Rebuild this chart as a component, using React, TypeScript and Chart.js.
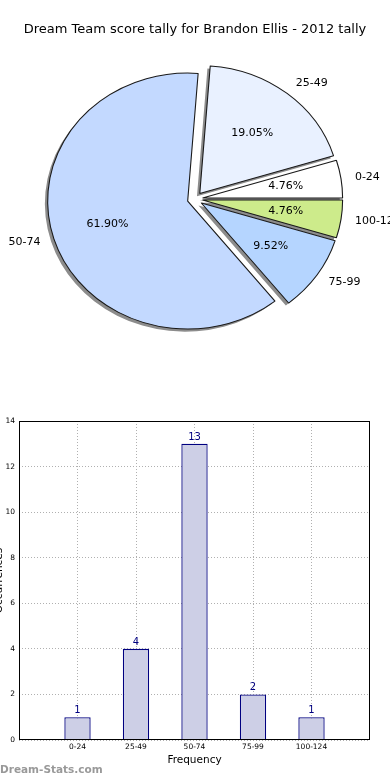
import React, { useEffect, useRef } from 'react';
import { Chart, registerables } from 'chart.js';

Chart.register(...registerables);

const TITLE = 'Dream Team score tally for Brandon Ellis - 2012 tally';
const categories = ['0-24', '25-49', '50-74', '75-99', '100-124'];
const counts = [1, 4, 13, 2, 1];
const pieColors = ['#ffffff', '#e9f1ff', '#c3d9ff', '#b5d5ff', '#cdeb8b'];
const yTickValues = [0, 2, 4, 6, 8, 10, 12, 14];
const X_TITLE = 'Frequency';
const Y_TITLE = 'Occurrences';
const WATERMARK = 'Dream-Stats.com';

const FONT = '"DejaVu Sans", sans-serif';
const EXPLODE = 7;
const SX = 1.094;

function PieChart() {
  const ref = useRef<HTMLCanvasElement>(null);
  useEffect(() => {
    if (!ref.current) return;
    const total = counts.reduce((a, b) => a + b, 0);
    const order = categories.map((_, i) => i).reverse();

    const ellipse = {
      id: 'ellipse',
      beforeDatasetsDraw(chart: any) {
        const els = chart.getDatasetMeta(0).data;
        els.forEach((el: any) => {
          if (!el._wrapped) {
            const orig = el.draw.bind(el);
            el.draw = (ctx: CanvasRenderingContext2D, area: any) => {
              const h = (el.startAngle + el.endAngle) / 2;
              ctx.save();
              ctx.translate(Math.cos(h) * EXPLODE, Math.sin(h) * EXPLODE);
              orig(ctx, area);
              ctx.restore();
            };
            el._wrapped = true;
          }
        });
        const arc = els[0];
        const ctx = chart.ctx;
        // shadow pass (under all wedges)
        ctx.save();
        ctx.translate(-2.8, 2.6);
        ctx.translate(arc.x, arc.y);
        ctx.scale(SX, 1);
        ctx.translate(-arc.x, -arc.y);
        els.forEach((el: any) => {
          const o = el.options;
          el.options = { ...o, backgroundColor: '#8c8c8c', borderColor: '#8c8c8c', borderWidth: 0 };
          el.draw(ctx, chart.chartArea);
          el.options = o;
        });
        ctx.restore();
        // main pass transform
        ctx.save();
        ctx.translate(arc.x, arc.y);
        ctx.scale(SX, 1);
        ctx.translate(-arc.x, -arc.y);
      },
      afterDatasetsDraw(chart: any) {
        chart.ctx.restore();
      },
    };

    const labels = {
      id: 'pieLabels',
      afterDraw(chart: any) {
        const ctx = chart.ctx;
        ctx.save();
        ctx.fillStyle = '#000';
        ctx.textBaseline = 'middle';
        ctx.font = `11px ${FONT}`;
        chart.getDatasetMeta(0).data.forEach((el: any, j: number) => {
          const i = order[j];
          const mid = (el.startAngle + el.endAngle) / 2;
          const R = el.outerRadius;
          const e = EXPLODE / R;
          const c = Math.cos(mid);
          const s = Math.sin(mid);
          const lx = el.x + SX * R * (1.1 + e) * c;
          const ly = el.y + R * (1.1 + e) * s;
          ctx.textAlign = c >= 0 ? 'left' : 'right';
          ctx.fillText(categories[i], lx, ly);
          const px = el.x + SX * R * (0.6 + e) * c;
          const py = el.y + R * (0.6 + e) * s;
          ctx.textAlign = 'center';
          ctx.fillText(((counts[i] / total) * 100).toFixed(2) + '%', px, py);
        });
        ctx.font = `13px ${FONT}`;
        ctx.textAlign = 'center';
        ctx.fillText(TITLE, 195, 30);
        ctx.restore();
      },
    };

    const chart = new Chart(ref.current, {
      type: 'pie',
      data: {
        labels: order.map((i) => categories[i]),
        datasets: [
          {
            data: order.map((i) => counts[i]),
            backgroundColor: order.map((i) => pieColors[i]),
            borderColor: '#1a1a1a',
            borderWidth: 1,
            clip: false,
          } as any,
        ],
      },
      options: {
        responsive: false,
        animation: false,
        events: [],
        rotation: 90,
        radius: 128,
        layout: { padding: { left: 2, right: 2, top: 0, bottom: 2 } },
        plugins: {
          legend: { display: false },
          tooltip: { enabled: false },
          title: { display: false },
        },
      } as any,
      plugins: [ellipse, labels],
    });
    return () => chart.destroy();
  }, []);
  return (
    <canvas
      ref={ref}
      width={390}
      height={400}
      style={{ position: 'absolute', left: 0, top: 0, width: 390, height: 400 }}
    />
  );
}

function BarChart() {
  const ref = useRef<HTMLCanvasElement>(null);
  useEffect(() => {
    if (!ref.current) return;

    const deco = {
      id: 'deco',
      afterDraw(chart: any) {
        const { ctx, chartArea: a } = chart;
        ctx.save();
        // frame
        ctx.strokeStyle = '#000';
        ctx.lineWidth = 1;
        ctx.strokeRect(
          Math.round(a.left) + 0.5,
          Math.round(a.top) + 0.5,
          Math.round(a.right - a.left) - 1,
          Math.round(a.bottom - a.top) - 1
        );
        // value labels
        ctx.fillStyle = '#000080';
        ctx.font = `10px ${FONT}`;
        ctx.textAlign = 'center';
        ctx.textBaseline = 'alphabetic';
        chart.getDatasetMeta(0).data.forEach((el: any, i: number) => {
          ctx.fillText(String(counts[i]), el.x, el.y - 4);
        });
        // x title
        ctx.fillStyle = '#000';
        ctx.font = `10.5px ${FONT}`;
        ctx.textBaseline = 'middle';
        ctx.fillText(X_TITLE, (a.left + a.right) / 2, 360);
        // y title (mostly clipped at the left edge)
        ctx.save();
        ctx.translate(1.5, (a.top + a.bottom) / 2);
        ctx.rotate(-Math.PI / 2);
        ctx.textBaseline = 'alphabetic';
        ctx.fillText(Y_TITLE, 0, 0);
        ctx.restore();
        // watermark
        ctx.fillStyle = '#999999';
        ctx.font = `bold 10.5px ${FONT}`;
        ctx.textAlign = 'left';
        ctx.textBaseline = 'middle';
        ctx.fillText(WATERMARK, 0, 370);
        ctx.restore();
      },
    };

    const chart = new Chart(ref.current, {
      type: 'bar',
      data: {
        datasets: [
          {
            data: categories.map((_, i) => ({ x: i, y: counts[i] })),
            backgroundColor: '#cdcfe6',
            borderColor: '#000080',
            borderWidth: 1.3,
            barPercentage: 0.45,
            categoryPercentage: 1,
          } as any,
        ],
      },
      options: {
        responsive: false,
        animation: false,
        events: [],
        layout: { padding: { left: 0, top: 21, right: 20, bottom: 0 } },
        plugins: {
          legend: { display: false },
          tooltip: { enabled: false },
          title: { display: false },
        },
        scales: {
          x: {
            type: 'linear',
            min: -1,
            max: 5,
            offset: false,
            z: 1,
            afterBuildTicks: (s: any) => {
              s.ticks = categories.map((_, i) => ({ value: i }));
            },
            afterFit: (s: any) => {
              s.height = 40;
            },
            ticks: {
              autoSkip: false,
              maxRotation: 0,
              padding: 3,
              color: '#000',
              font: { family: FONT, size: 7.5 },
              callback: (v: any) => categories[v] ?? '',
            },
            grid: { color: '#b0b0b0', lineWidth: 1, drawTicks: false, offset: false },
            border: { display: false, dash: [1, 2] },
          },
          y: {
            min: 0,
            max: 14,
            z: 1,
            afterBuildTicks: (s: any) => {
              s.ticks = yTickValues.map((v) => ({ value: v }));
            },
            afterFit: (s: any) => {
              s.width = 19;
            },
            ticks: {
              padding: 4,
              color: '#000',
              font: { family: FONT, size: 7.5 },
            },
            grid: { color: '#b0b0b0', lineWidth: 1, drawTicks: false },
            border: { display: false, dash: [1, 2] },
          },
        },
      } as any,
      plugins: [deco],
    });
    return () => chart.destroy();
  }, []);
  return (
    <canvas
      ref={ref}
      width={390}
      height={380}
      style={{ position: 'absolute', left: 0, top: 400, width: 390, height: 380 }}
    />
  );
}

export default function App() {
  return (
    <div
      style={{
        position: 'absolute',
        left: 0,
        top: 0,
        width: 390,
        height: 780,
        background: '#fff',
        overflow: 'hidden',
      }}
    >
      <PieChart />
      <BarChart />
    </div>
  );
}
